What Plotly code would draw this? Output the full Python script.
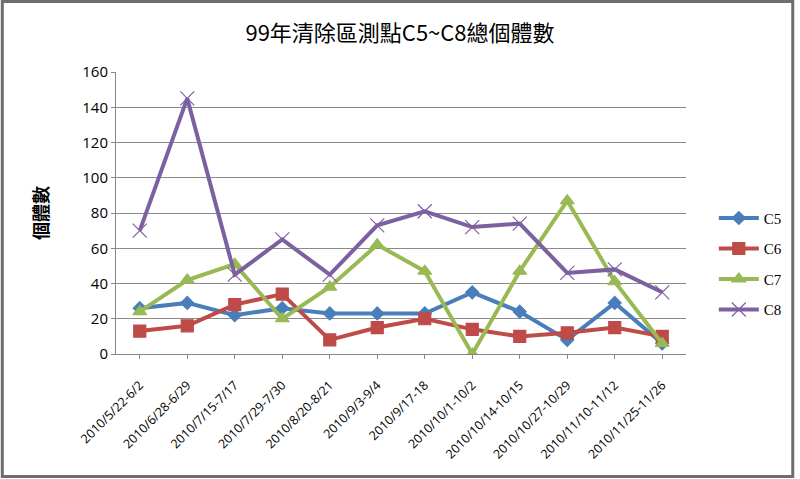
import plotly.graph_objects as go

periods = ["2010/5/22-6/2", "2010/6/28-6/29", "2010/7/15-7/17", "2010/7/29-7/30",
           "2010/8/20-8/21", "2010/9/3-9/4", "2010/9/17-18", "2010/10/1-10/2",
           "2010/10/14-10/15", "2010/10/27-10/29", "2010/11/10-11/12", "2010/11/25-11/26"]
c5 = [26, 29, 22, 26, 23, 23, 23, 35, 24, 8, 29, 6]
c6 = [13, 16, 28, 34, 8, 15, 20, 14, 10, 12, 15, 10]
c7 = [24, 42, 51, 20, 38, 62, 47, 0, 47, 87, 41, 6]
c8 = [70, 145, 45, 65, 45, 73, 81, 72, 74, 46, 48, 35]

series = [
    ("C5", c5, "#4A7EBB", "diamond", 10),
    ("C6", c6, "#BE4B48", "square", 12),
    ("C7", c7, "#98B954", "triangle-up", 12),
    ("C8", c8, "#7D60A0", "x-thin-open", 14),
]

fig = go.Figure()
for name, vals, color, sym, size in series:
    fig.add_trace(go.Scatter(
        x=periods, y=vals, name=name, legendgroup=name,
        mode="lines+markers",
        line=dict(color=color, width=4),
        marker=dict(symbol=sym, size=size, color=color,
                    line=dict(color=color, width=1.2)),
    ))

W, H = 800, 479
ml, mr, mt, mb = 116, 110, 72, 125
pw, ph = W - ml - mr, H - mt - mb

fig.update_layout(
    width=W, height=H,
    margin=dict(l=ml, r=mr, t=mt, b=mb),
    paper_bgcolor="white", plot_bgcolor="white",
    title=dict(text="99年清除區測點C5~C8總個體數", x=0.5, xanchor="center",
               y=1 - 33 / H, yanchor="middle",
               font=dict(family="Noto Sans CJK TC", size=22, color="black")),
    font=dict(family="Open Sans", color="black"),
    showlegend=True,
    legend=dict(x=1 + 28 / pw, xanchor="left", y=0.32, yanchor="middle",
                traceorder="grouped", tracegroupgap=8, itemwidth=40,
                font=dict(family="Liberation Serif", size=15, color="black"),
                bgcolor="rgba(0,0,0,0)"),
    xaxis=dict(range=[-0.5, len(periods) - 0.5],
               tickangle=-45, tickfont=dict(size=12.5, family="Open Sans"),
               showgrid=False, showline=True, linecolor="#868686",
               ticks="outside", tickcolor="#868686", ticklen=4,
               ticklabelstandoff=14),
    yaxis=dict(range=[0, 160], dtick=20, tickfont=dict(size=15),
               showgrid=True, gridcolor="#8a8a8a", gridwidth=1,
               showline=True, linecolor="#868686", zeroline=False,
               ticks="outside", tickcolor="#868686", ticklen=4,
               title=dict(text="個體數", standoff=28,
                          font=dict(family="Noto Sans CJK TC", size=18,
                                    weight="bold"))),
    shapes=[dict(type="rect", xref="paper", yref="paper",
                 x0=-(ml - 1.5) / pw, x1=1 + (mr - 2.5) / pw,
                 y0=-(mb - 2.5) / ph, y1=1 + (mt - 1.5) / ph,
                 line=dict(color="#6e6e6e", width=3))],
)

fig.write_html("out.html", config={"displayModeBar": False},
               post_script="document.body.style.margin='0';"
                           "document.body.style.overflow='hidden';")
